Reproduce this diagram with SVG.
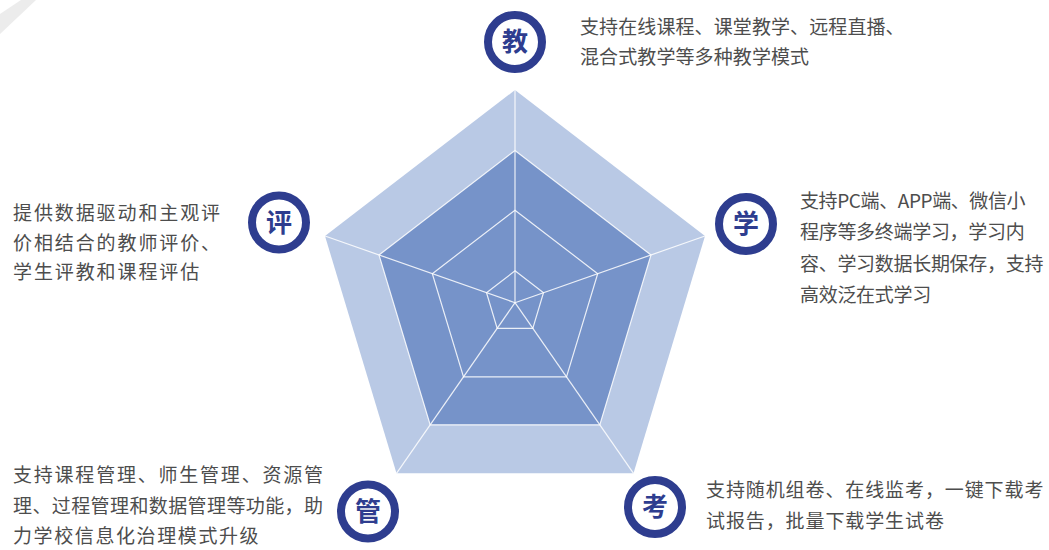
<svg xmlns="http://www.w3.org/2000/svg" width="1049" height="550" viewBox="0 0 1049 550">
<style>
.ring{fill:#ffffff;stroke:#2e3d8f;stroke-width:8}
.icon{font-family:"Noto Sans CJK SC","Noto Sans",sans-serif;font-size:26px;font-weight:bold;fill:#2e3d8f;text-anchor:middle}
.desc{font-family:"Noto Sans CJK SC","Noto Sans",sans-serif;font-size:19px;fill:#4d4d4d}
.grid{fill:none;stroke:#ffffff;stroke-width:1.2;stroke-opacity:0.85}
</style>
<rect width="1049" height="550" fill="#ffffff"/>
<polygon points="0,14 21,0 36,0 0,34" fill="#ececec"/>
<g id="radar">
<polygon points="515,90 705,236 633.5,473.3 396.5,473.3 325,236" fill="#b9c9e5"/>
<polygon points="515,150.4 651,254.9 599.8,424.8 430.2,424.8 379,254.9" fill="#7693c9"/>
<g id="connectors">
<polygon class="grid" points="515,150.4 651,254.9 599.8,424.8 430.2,424.8 379,254.9"/>
<polygon class="grid" points="515,210.2 597.7,273.7 566.5,376.9 463.5,376.9 432.3,273.7"/>
<polygon class="grid" points="515,270.8 543.5,292.7 532.8,328.3 497.2,328.3 486.5,292.7"/>
<line class="grid" x1="515" y1="302.7" x2="515" y2="90"/>
<line class="grid" x1="515" y1="302.7" x2="705" y2="236"/>
<line class="grid" x1="515" y1="302.7" x2="633.5" y2="473.3"/>
<line class="grid" x1="515" y1="302.7" x2="396.5" y2="473.3"/>
<line class="grid" x1="515" y1="302.7" x2="325" y2="236"/>
</g>
</g>
<g id="node-jiao">
<circle class="ring" cx="515" cy="42" r="27"/>
<text class="icon" x="515" y="51">教</text>
<text class="desc" x="580" y="34" letter-spacing="0.1">支持在线课程、课堂教学、远程直播、</text>
<text class="desc" x="580" y="64" letter-spacing="0.1">混合式教学等多种教学模式</text>
</g>
<g id="node-xue">
<circle class="ring" cx="746" cy="224" r="27"/>
<text class="icon" x="746" y="233">学</text>
<text class="desc" x="800" y="208" letter-spacing="-0.4">支持PC端、APP端、微信小</text>
<text class="desc" x="800" y="239" letter-spacing="-0.3">程序等多终端学习，学习内</text>
<text class="desc" x="800" y="271" letter-spacing="-0.3">容、学习数据长期保存，支持</text>
<text class="desc" x="800" y="302" letter-spacing="-0.3">高效泛在式学习</text>
</g>
<g id="node-ping">
<circle class="ring" cx="279" cy="222.5" r="27"/>
<text class="icon" x="279" y="231.5">评</text>
<text class="desc" x="13" y="220" letter-spacing="1.9">提供数据驱动和主观评</text>
<text class="desc" x="13" y="250" letter-spacing="1.9">价相结合的教师评价、</text>
<text class="desc" x="13" y="279" letter-spacing="1.9">学生评教和课程评估</text>
</g>
<g id="node-guan">
<circle class="ring" cx="368" cy="511.5" r="27"/>
<text class="icon" x="368" y="520.5">管</text>
<text class="desc" x="13" y="482" textLength="310" lengthAdjust="spacing">支持课程管理、师生管理、资源管</text>
<text class="desc" x="13" y="513" textLength="310" lengthAdjust="spacing">理、过程管理和数据管理等功能，助</text>
<text class="desc" x="13" y="543" letter-spacing="1.6">力学校信息化治理模式升级</text>
</g>
<g id="node-kao">
<circle class="ring" cx="655" cy="507" r="27"/>
<text class="icon" x="655" y="516">考</text>
<text class="desc" x="706" y="497" letter-spacing="0.9">支持随机组卷、在线监考，一键下载考</text>
<text class="desc" x="706" y="528" letter-spacing="0.9">试报告，批量下载学生试卷</text>
</g>
</svg>
